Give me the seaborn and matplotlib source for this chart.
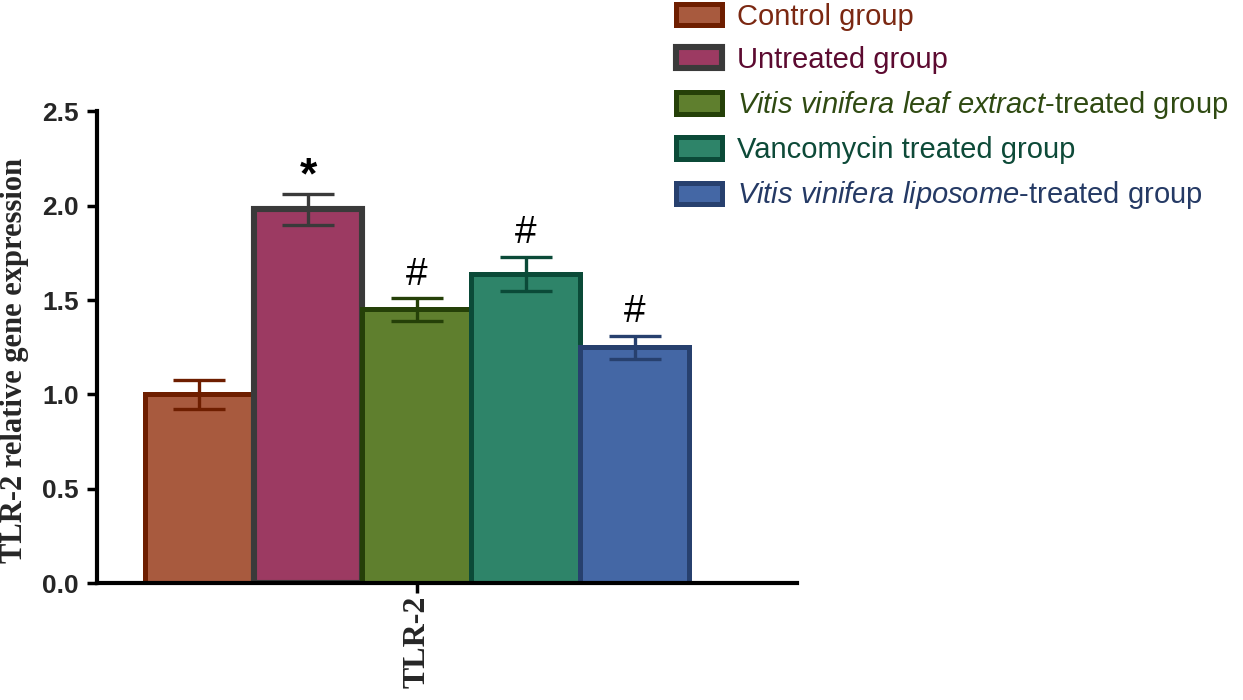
import matplotlib
matplotlib.use("Agg")
import matplotlib.pyplot as plt
import seaborn as sns
import pandas as pd

# ---- data ----
gene = ["TLR-2"]
groups = [
    "Control group",
    "Untreated group",
    "Vitis vinifera leaf extract-treated group",
    "Vancomycin treated group",
    "Vitis vinifera liposome-treated group",
]
legend_labels = [
    "Control group",
    "Untreated group",
    r"$\mathit{Vitis\ vinifera\ leaf\ extract}$-treated group",
    "Vancomycin treated group",
    r"$\mathit{Vitis\ vinifera\ liposome}$-treated group",
]
values = [1.00, 1.98, 1.45, 1.64, 1.25]
errors = [0.075, 0.08, 0.06, 0.09, 0.06]
marks = ["", "*", "#", "#", "#"]
y_ticks = [0.0, 0.5, 1.0, 1.5, 2.0, 2.5]

# ---- styles ----
fills = ["#A85A3E", "#9C3A62", "#5F7F2E", "#2E8469", "#4467A5"]
edges = ["#6E1E00", "#3A3A3A", "#254008", "#0B4A38", "#27406E"]
text_cols = ["#7B2812", "#5C0A30", "#2F4A12", "#0D4A38", "#253A65"]

sns.set_style("ticks")
plt.rcParams["font.family"] = ["Liberation Sans", "DejaVu Sans"]
plt.rcParams["mathtext.fontset"] = "custom"
plt.rcParams["mathtext.rm"] = "Liberation Sans"
plt.rcParams["mathtext.it"] = "Liberation Sans:italic"

df = pd.DataFrame({"gene": gene * len(groups), "group": groups, "value": values})

fig = plt.figure(figsize=(12.43, 7.0), dpi=100)
ax = fig.add_axes([0.078, 0.167, 0.563, 0.674])

sns.barplot(data=df, x="gene", y="value", hue="group", hue_order=groups,
            palette=fills, width=0.8, gap=0, errorbar=None, legend=False,
            saturation=1, ax=ax)

bar_containers = list(ax.containers)
handles = []
for i, cont in enumerate(bar_containers):
    for bar in cont:
        bar.set_edgecolor(edges[i])
        bar.set_linewidth(3.6 if i != 1 else 4.4)
        bar.set_zorder(2)
        cx = bar.get_x() + bar.get_width() / 2
        ax.errorbar(cx, values[i], yerr=errors[i], color=edges[i],
                    capsize=19, elinewidth=2.4, capthick=2.4, zorder=3)
        if marks[i]:
            if marks[i] == "*":
                ax.annotate(marks[i], (cx, values[i] + errors[i]),
                            xytext=(0, -2), textcoords="offset points",
                            ha="center", va="bottom", fontsize=32,
                            fontweight="bold", color="black")
            else:
                ax.annotate(marks[i], (cx, values[i] + errors[i]),
                            xytext=(0, 4), textcoords="offset points",
                            ha="center", va="bottom", fontsize=28,
                            color="black")
        handles.append(bar)

ax.set_xlim(-0.47, 0.558)
ax.set_ylim(0, 2.5)
ax.set_yticks(y_ticks)
ax.set_yticklabels([f"{t:.1f}" for t in y_ticks],
                   fontweight="bold", fontsize=19)
ax.set_xticks([0])
ax.set_xticklabels(gene, rotation=90, fontfamily="Liberation Serif",
                   fontweight="bold", fontsize=23)
ax.set_xlabel("")
ax.set_ylabel("TLR-2 relative gene expression", fontfamily="Liberation Serif",
              fontweight="bold", fontsize=22)
ax.yaxis.set_label_coords(-0.097, 0.472)

for s in ["top", "right"]:
    ax.spines[s].set_visible(False)
for s in ["left", "bottom"]:
    ax.spines[s].set_linewidth(3.0)
    ax.spines[s].set_color("black")
ax.tick_params(axis="y", width=2.5, length=7, color="black", pad=6)
ax.tick_params(axis="x", width=2.5, length=7, color="black", pad=2)

leg = fig.legend(handles, legend_labels, loc="upper left",
                 bbox_to_anchor=(0.544, 0.996), frameon=False, fontsize=21,
                 handlelength=1.58, handleheight=0.75, handletextpad=0.5,
                 labelspacing=0.52, borderaxespad=0, borderpad=0.0)
for t, c in zip(leg.get_texts(), text_cols):
    t.set_color(c)

fig.savefig("out.png", dpi=100)
